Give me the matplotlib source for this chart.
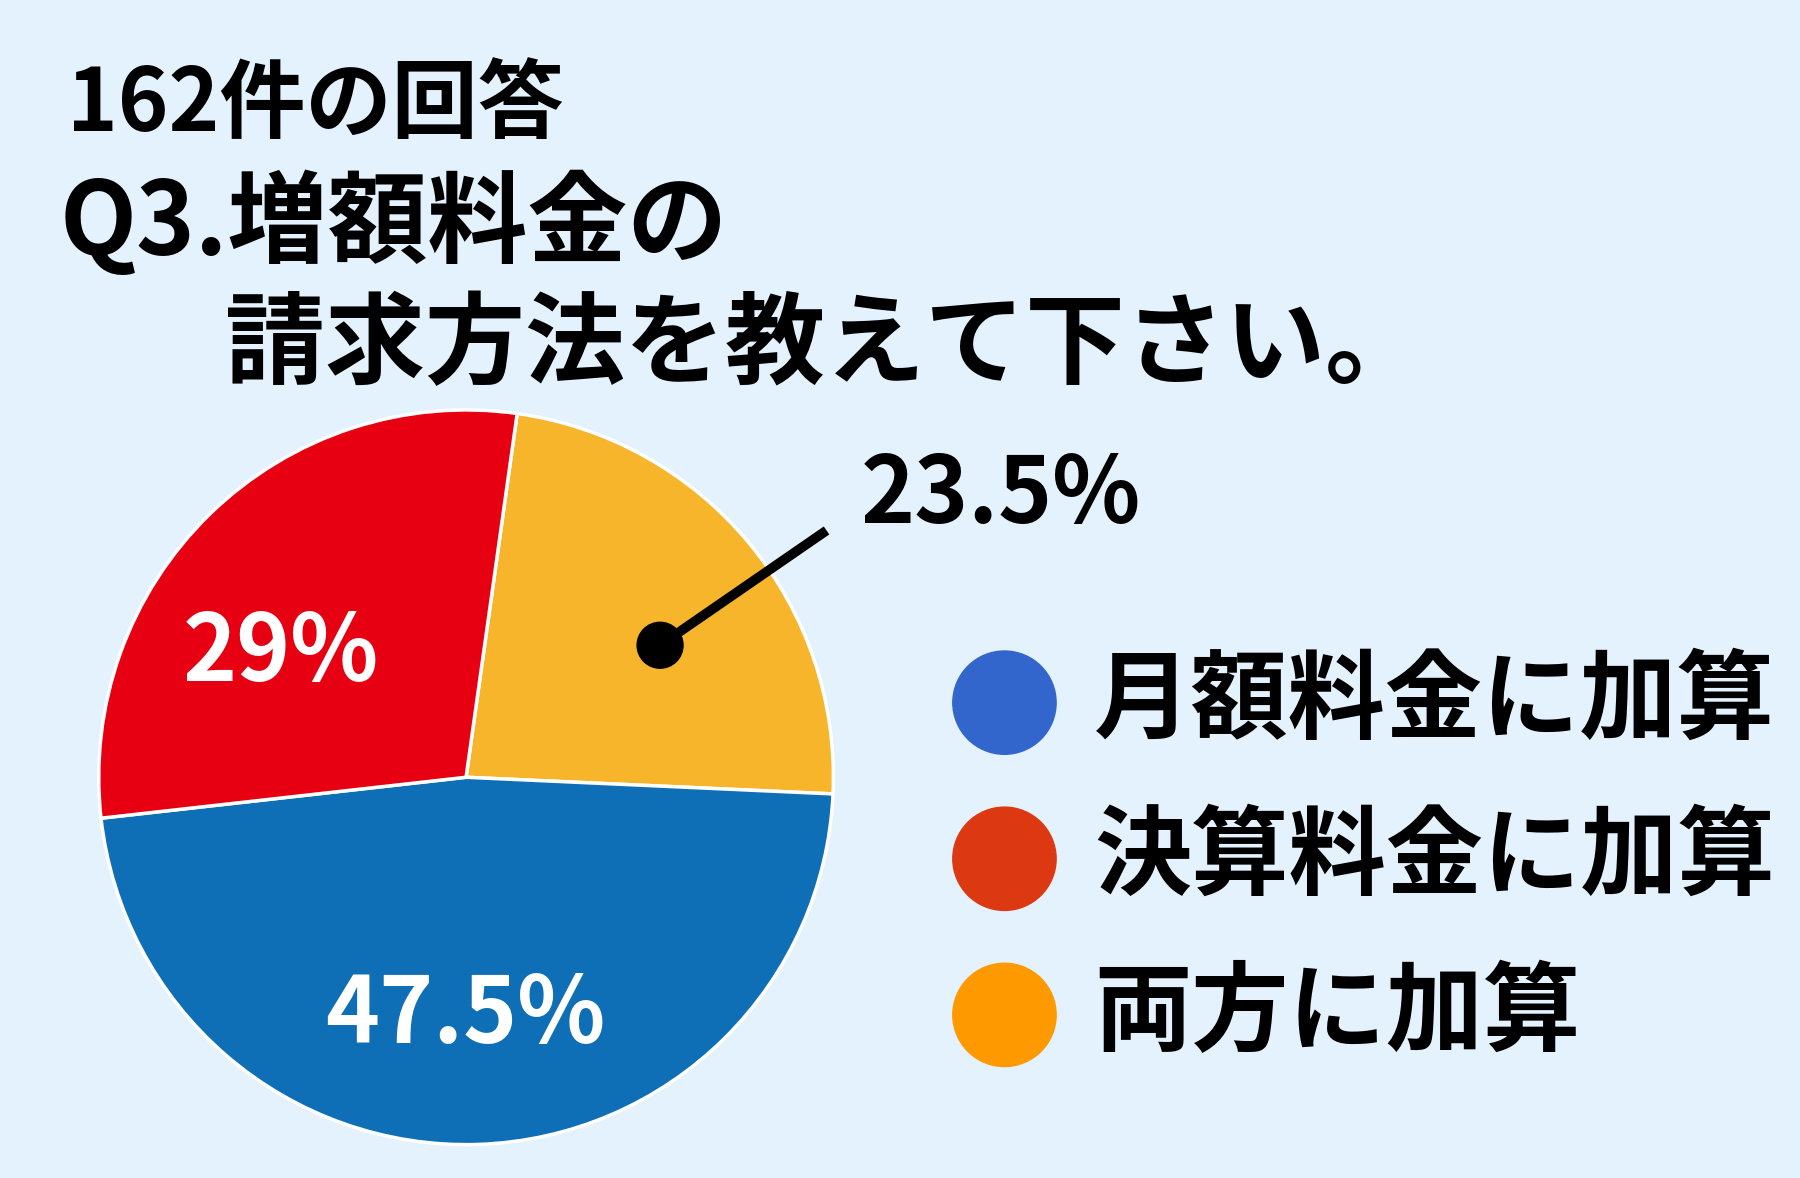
import matplotlib.pyplot as plt
from matplotlib.patches import Circle

plt.rcParams['font.family'] = ['Noto Sans CJK JP', 'DejaVu Sans']

labels = ['月額料金に加算', '決算料金に加算', '両方に加算']
legend_colors = ['#3366CC', '#DC3912', '#FF9900']
# pie order (clockwise from top): 両方, 月額, 決算
pie_values = [23.5, 47.5, 29]
pie_colors = ['#F7B52C', '#0E6FB7', '#E60012']
pct_text = ['23.5%', '47.5%', '29%']

W, H = 1568, 1026
fig = plt.figure(figsize=(18, 11.78), dpi=100)
fig.patch.set_facecolor('#E3F2FD')
ax = fig.add_axes([0, 0, 1, 1])

ax.pie(pie_values, colors=pie_colors, startangle=82, counterclock=False,
       center=(406, H - 677), radius=320, frame=True,
       wedgeprops=dict(edgecolor='white', linewidth=2.5))
ax.set_xlim(0, W)
ax.set_ylim(0, H)
ax.set_aspect('equal')
ax.axis('off')

ax.text(58, H - 92, '162件の回答', fontsize=62, fontweight='bold', va='center')
ax.text(52, H - 195, 'Q3.増額料金の', fontsize=72, fontweight='bold', va='center')
ax.text(196, H - 302, '請求方法を教えて下さい。', fontsize=72, fontweight='bold', va='center')

ax.text(245, H - 570, pct_text[2], fontsize=66, fontweight='bold', color='white', ha='center', va='center')
ax.text(405, H - 885, pct_text[1], fontsize=66, fontweight='bold', color='white', ha='center', va='center')
ax.text(872, H - 432, pct_text[0], fontsize=66, fontweight='bold', color='black', ha='center', va='center')
ax.plot([575, 720], [H - 562, H - 462], color='black', lw=7, solid_capstyle='butt')
ax.add_patch(Circle((575, H - 562), 20, color='black'))

for i, (lab, c) in enumerate(zip(labels, legend_colors)):
    y = H - (612 + i * 136)
    ax.add_patch(Circle((875, y), 45, color=c))
    ax.text(953, y, lab, fontsize=70, fontweight='bold', va='center')

fig.savefig('out.png', dpi=100, facecolor=fig.get_facecolor())
